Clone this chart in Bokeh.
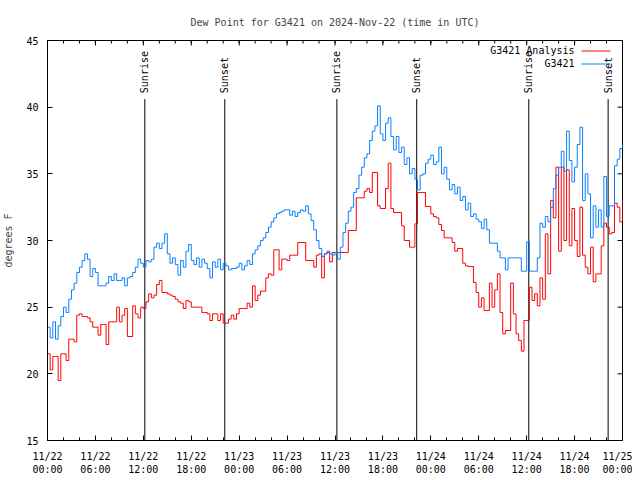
import pandas as pd
from math import pi
from bokeh.plotting import figure
from bokeh.models import (FixedTicker, DatetimeTickFormatter, Range1d, Label,
                          BoxAnnotation, ColumnDataSource)
from bokeh.embed import file_html
from bokeh.resources import INLINE
from bokeh.core.properties import value

# ---------------- data ----------------
START = "2024-11-22 00:00"
STEP = "20min"

# G3421 observed dew point (deg F), one value every 20 minutes from 11/22 00:00
obs_values = [
    23.5, 22.7, 23.9, 22.6, 23.6, 24.3, 25.0, 24.6, 25.6, 26.3, 26.8, 27.6,
    28.0, 28.5, 29.0, 28.6, 27.3, 27.9, 27.6, 26.6, 26.6, 26.6, 26.8, 27.3,
    27.0, 27.5, 27.0, 27.0, 27.2, 26.6, 27.2, 27.3, 27.6, 28.0, 28.6, 28.3,
    28.0, 28.5, 28.4, 28.6, 29.5, 29.8, 29.4, 29.8, 30.5, 29.0, 28.3, 28.7,
    28.2, 27.4, 28.5, 28.0, 29.2, 29.7, 28.5, 28.2, 28.7, 28.0, 28.6, 28.3,
    27.9, 27.2, 28.4, 28.0, 28.6, 27.8, 28.3, 28.1, 27.8, 27.9, 27.9, 28.0,
    28.3, 27.8, 28.1, 28.5, 28.2, 29.0, 29.3, 29.6, 30.0, 30.2, 30.6, 31.0,
    31.4, 31.7, 32.0, 32.1, 32.2, 32.3, 32.3, 31.9, 32.2, 31.8, 32.1, 32.3,
    32.2, 32.6, 32.0, 31.5, 30.8, 30.0, 29.4, 28.8, 29.0, 29.2, 29.0, 28.9,
    29.1, 28.6, 29.5, 30.6, 31.3, 32.2, 32.5, 33.6, 33.9, 34.9, 35.5, 36.2,
    36.5, 37.5, 38.2, 38.6, 40.1, 38.0, 37.5, 38.8, 39.2, 37.8, 36.8, 37.8,
    36.6, 37.0, 35.7, 36.2, 35.0, 35.4, 34.6, 33.8, 34.9, 35.0, 35.8, 36.1,
    36.4, 35.7, 35.9, 37.0, 35.0, 35.5, 34.6, 33.8, 34.2, 33.5, 34.0, 33.0,
    33.3, 32.3, 32.8, 31.8, 32.0, 31.6, 31.4, 30.9, 31.6, 30.8, 29.8, 29.8,
    29.8, 29.2, 28.7, 28.7, 27.8, 28.7, 28.7, 28.7, 28.7, 28.7, 27.7, 27.7,
    29.9, 27.7, 27.7, 27.7, 28.7, 31.3, 31.0, 31.8, 31.4, 32.5, 33.9, 34.9,
    35.5, 36.7, 35.2, 38.2, 36.0, 34.4, 35.5, 37.2, 38.5, 33.0, 35.0, 33.5,
    30.2, 32.6, 31.0, 32.3, 31.0, 34.8, 31.8, 32.6, 32.6, 35.6, 36.1, 36.9,
    37.2,
]

# G3421 analysis dew point (deg F), same times
ana_values = [
    21.5, 20.3, 21.3, 21.3, 19.5, 21.5, 21.5, 21.0, 22.6, 22.6, 22.4, 24.4,
    24.5, 24.3, 24.3, 24.2, 23.9, 23.5, 23.5, 22.9, 23.7, 23.7, 22.2, 23.9,
    23.9, 23.9, 25.0, 23.9, 24.4, 24.9, 22.8, 22.8, 25.1, 24.5, 24.2, 25.0,
    24.9, 25.4, 26.0, 25.7, 25.9, 26.7, 27.0, 26.1, 26.1, 26.0, 25.9, 25.8,
    25.6, 25.4, 25.3, 24.9, 25.5, 25.4, 25.0, 25.0, 25.0, 25.0, 24.6, 24.6,
    24.5, 24.0, 24.5, 24.5, 24.0, 24.5, 23.8, 23.8, 24.1, 24.4, 24.1, 24.5,
    24.9, 24.9, 24.9, 25.3, 25.0, 26.6, 25.5, 25.9, 26.2, 26.2, 27.2, 27.5,
    27.4, 29.3, 29.3, 27.8, 28.6, 28.6, 28.5, 28.9, 28.9, 28.9, 29.85, 29.85,
    29.85, 28.5, 28.5, 28.5, 28.0, 28.9, 29.0, 27.2, 29.0, 29.1, 28.4, 29.1,
    29.1, 29.1, 29.1, 29.1, 29.1, 30.75, 30.75, 30.75, 33.2, 33.2, 33.2, 33.7,
    33.9, 33.6, 35.1, 35.1, 32.6, 32.4, 32.4, 33.9, 35.8, 32.4, 32.1, 32.1,
    32.1, 31.1, 30.0, 30.0, 29.5, 29.5, 31.25, 33.6, 33.6, 33.6, 32.55, 32.55,
    32.0, 31.8, 31.7, 31.2, 30.75, 30.2, 30.2, 30.2, 29.85, 29.2, 29.4, 29.4,
    28.3, 28.1, 28.05, 28.05, 26.85, 26.1, 25.0, 25.7, 24.75, 24.75, 26.8, 25.0,
    26.3, 27.5, 24.6, 23.0, 23.25, 23.25, 26.8, 24.5, 23.0, 22.5, 21.7, 24.0,
    24.0, 26.5, 25.5, 26.0, 25.1, 27.2, 25.6, 30.5, 27.5, 33.0, 31.7, 35.5,
    29.2, 35.5, 30.0, 35.3, 29.6, 32.4, 30.0, 28.8, 32.5, 28.9, 28.0, 27.5,
    29.5, 26.9, 27.5, 27.5, 29.6, 31.3, 31.0, 30.5, 30.6, 32.8, 32.5, 31.4,
    33.0,
]

event_times = ["2024-11-22 12:11", "2024-11-22 22:12", "2024-11-23 12:14",
               "2024-11-23 22:14", "2024-11-24 12:16", "2024-11-24 22:12"]
event_names = ["Sunrise", "Sunset", "Sunrise", "Sunset", "Sunrise", "Sunset"]

y_ticks = [15, 20, 25, 30, 35, 40, 45]
x_start = "2024-11-22 00:00"
x_end = "2024-11-25 00:00"

# ---------------- build ----------------
times = pd.date_range(START, periods=len(obs_values), freq=STEP)
ev_t = pd.to_datetime(event_times)

FONT = "DejaVu Sans Mono"
FS = "10px"
RED = "#ff0000"
BLUE = "#0a80ff"

t0 = pd.Timestamp(x_start)
t1 = pd.Timestamp(x_end)
ms = lambda t: t.value / 1e6

p = figure(frame_width=575, frame_height=400,
           min_border_left=39, min_border_right=10, min_border_top=40, min_border_bottom=32,
           x_axis_type="datetime", output_backend="svg", toolbar_location=None,
           x_range=Range1d(t0, t1), y_range=Range1d(15, 45),
           background_fill_color="white", border_fill_color="white")

p.title.text = "Dew Point for G3421 on 2024-Nov-22 (time in UTC)"
p.title.align = "center"
p.title.text_font = FONT
p.title.text_font_size = FS
p.title.text_font_style = "normal"
p.title.standoff = 25

p.grid.visible = False
p.outline_line_color = "black"
p.outline_line_width = 1

major_t = pd.date_range(t0, t1, freq="6h")
minor_t = pd.date_range(t0, t1, freq="2h")
xt = FixedTicker(ticks=[ms(t) for t in major_t], minor_ticks=[ms(t) for t in minor_t])
yt = FixedTicker(ticks=y_ticks, minor_ticks=[])
fmt = DatetimeTickFormatter(hours="%m/%d\n%H:%M", days="%m/%d\n%H:%M", hourmin="%m/%d\n%H:%M")

def style_axis(ax):
    ax.major_tick_in = 5
    ax.major_tick_out = 0
    ax.minor_tick_in = 3
    ax.minor_tick_out = 0
    ax.axis_line_color = "black"
    ax.major_tick_line_color = "black"
    ax.minor_tick_line_color = "black"
    ax.major_label_text_font = FONT
    ax.major_label_text_font_size = FS
    ax.major_label_text_color = "black"

xa = p.xaxis[0]
xa.ticker = xt
xa.formatter = fmt
xa.major_label_standoff = 10
style_axis(xa)

ya = p.yaxis[0]
ya.ticker = yt
ya.axis_label = "degrees F"
ya.axis_label_text_font = FONT
ya.axis_label_text_font_size = FS
ya.axis_label_text_font_style = "normal"
ya.axis_label_standoff = 9
ya.major_label_standoff = 9
style_axis(ya)

# mirrored inward ticks on the top and right borders (clipped to the frame)
p.scatter(major_t, [45] * len(major_t), marker="dash", size=10, angle=pi / 2, line_color="black")
p.scatter(minor_t, [45] * len(minor_t), marker="dash", size=6, angle=pi / 2, line_color="black")
p.scatter([t1] * len(y_ticks), y_ticks, marker="dash", size=10, line_color="black")

# sunrise / sunset markers
MARK_TOP = 40.6
ev_src = ColumnDataSource(dict(x=ev_t, y0=[15] * len(ev_t), y1=[MARK_TOP] * len(ev_t),
                               yt=[MARK_TOP + 0.45] * len(ev_t), name=event_names))
p.segment(x0="x", y0="y0", x1="x", y1="y1", source=ev_src, line_color="black", line_width=1)
p.text(x="x", y="yt", text="name", source=ev_src, angle=pi / 2,
       text_align="left", text_baseline="middle", text_font=value(FONT),
       text_font_size=FS, text_color="black")

# series
p.step(times, ana_values, mode="after", line_color=RED, line_width=1)
p.step(times, obs_values, mode="after", line_color=BLUE, line_width=1)

# legend (gnuplot style: text, then line sample)
for i, (lab, col) in enumerate([("G3421 Analysis", RED), ("G3421", BLUE)]):
    yy = 390 - 13 * i
    p.add_layout(Label(x=527, y=yy, x_units="screen", y_units="screen", text=lab,
                       text_align="right", text_baseline="middle", text_font=FONT,
                       text_font_size=FS, text_color="black"))
    p.add_layout(BoxAnnotation(left=534, right=563, bottom=yy - 1, top=yy,
                               left_units="screen", right_units="screen",
                               bottom_units="screen", top_units="screen",
                               fill_color=col, fill_alpha=1, line_color=None))

open("out.html", "w").write(file_html(p, INLINE))
